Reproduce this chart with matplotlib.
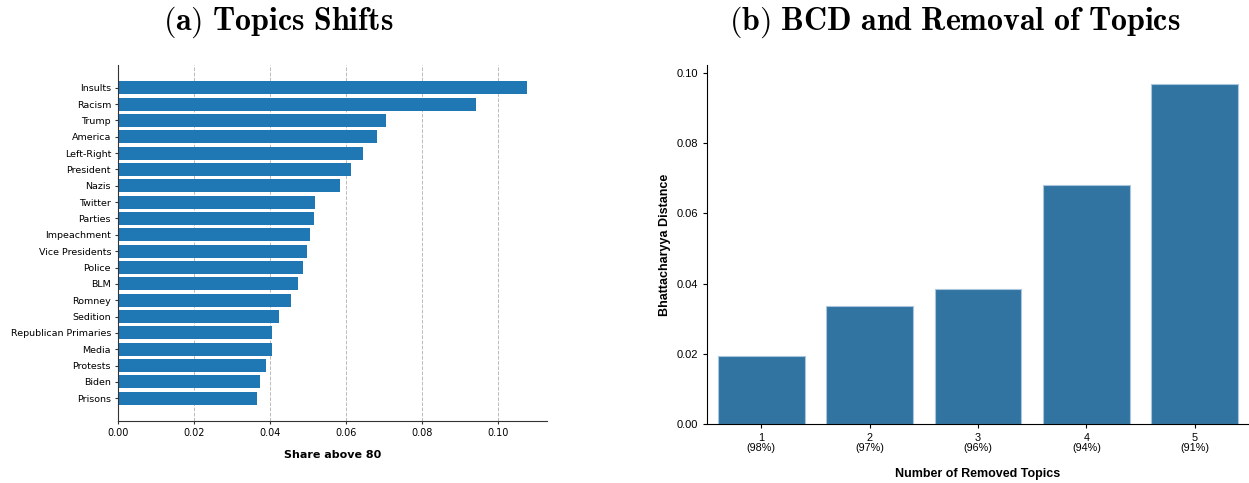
import matplotlib
matplotlib.use("Agg")
import matplotlib.pyplot as plt
import numpy as np

topics = ["Insults", "Racism", "Trump", "America", "Left-Right", "President", "Nazis",
          "Twitter", "Parties", "Impeachment", "Vice Presidents", "Police", "BLM",
          "Romney", "Sedition", "Republican Primaries", "Media", "Protests", "Biden", "Prisons"]
share_above_80 = [0.1078, 0.0942, 0.0705, 0.0683, 0.0646, 0.0615, 0.0586,
                  0.0520, 0.0517, 0.0507, 0.0499, 0.0488, 0.0475,
                  0.0457, 0.0425, 0.0405, 0.0405, 0.0389, 0.0375, 0.0367]
x_ticks_a = [0.00, 0.02, 0.04, 0.06, 0.08, 0.10]

removed = ["1", "2", "3", "4", "5"]
kept_pct = ["98%", "97%", "96%", "94%", "91%"]
bcd = [0.0193, 0.0337, 0.0385, 0.0681, 0.0970]
y_ticks_b = [0.00, 0.02, 0.04, 0.06, 0.08, 0.10]

W, H = 1249, 483
fig = plt.figure(figsize=(W / 100, H / 100), dpi=100)
plt.rcParams['mathtext.fontset'] = 'cm'

# ---- (a)
axa = fig.add_axes([118 / W, 1 - 421 / H, (547 - 118) / W, (421 - 65) / H])
ypos = np.arange(len(topics))
axa.barh(ypos, share_above_80, height=0.8, color="#1f77b4")
axa.set_yticks(ypos)
axa.set_yticklabels(topics, fontsize=6.8)
axa.invert_yaxis()
axa.set_xticks(x_ticks_a)
axa.set_xticklabels([f"{v:.2f}" for v in x_ticks_a], fontsize=7)
axa.set_xlim(0, 0.113)
axa.xaxis.grid(True, linestyle="--", color="#bbbbbb", linewidth=0.7)
axa.set_axisbelow(True)
for s in ["top", "right"]:
    axa.spines[s].set_visible(False)
for s in ["left", "bottom"]:
    axa.spines[s].set_color("#333333")
axa.tick_params(length=2.5, pad=2.5, color="#333333")
axa.set_xlabel("Share above 80", fontsize=8, fontweight="bold", labelpad=9)

# ---- (b)
axb = fig.add_axes([707 / W, 1 - 424 / H, (W - 707) / W, (424 - 65) / H])
xpos = np.arange(len(removed))
axb.bar(xpos, bcd, width=0.8, color="#3274a1", edgecolor="#a9c6de", linewidth=0.8)
axb.set_xlim(-0.5, 4.5)
axb.set_ylim(0, 0.1023)
axb.set_xticks(xpos)
axb.set_xticklabels([f"{r}\n({p})" for r, p in zip(removed, kept_pct)],
                    fontsize=7.8, family="Liberation Sans", linespacing=1.0)
axb.set_yticks(y_ticks_b)
axb.set_yticklabels([f"{v:.2f}" for v in y_ticks_b], fontsize=8, family="Liberation Sans")
for s in ["top", "right"]:
    axb.spines[s].set_visible(False)
axb.tick_params(length=3)
axb.set_xlabel("Number of Removed Topics", fontsize=9, fontweight="bold",
               family="Liberation Sans", labelpad=11)
axb.set_ylabel("Bhattacharyya Distance", fontsize=9, fontweight="bold",
               family="Liberation Sans", labelpad=4)

fig.text(278 / W, 1 - 22 / H, r"$\mathbf{(a)\ Topics\ Shifts}$", fontsize=23,
         ha="center", va="center")
fig.text(955 / W, 1 - 22 / H, r"$\mathbf{(b)\ BCD\ and\ Removal\ of\ Topics}$", fontsize=23,
         ha="center", va="center")

fig.savefig("out.png", dpi=100)
